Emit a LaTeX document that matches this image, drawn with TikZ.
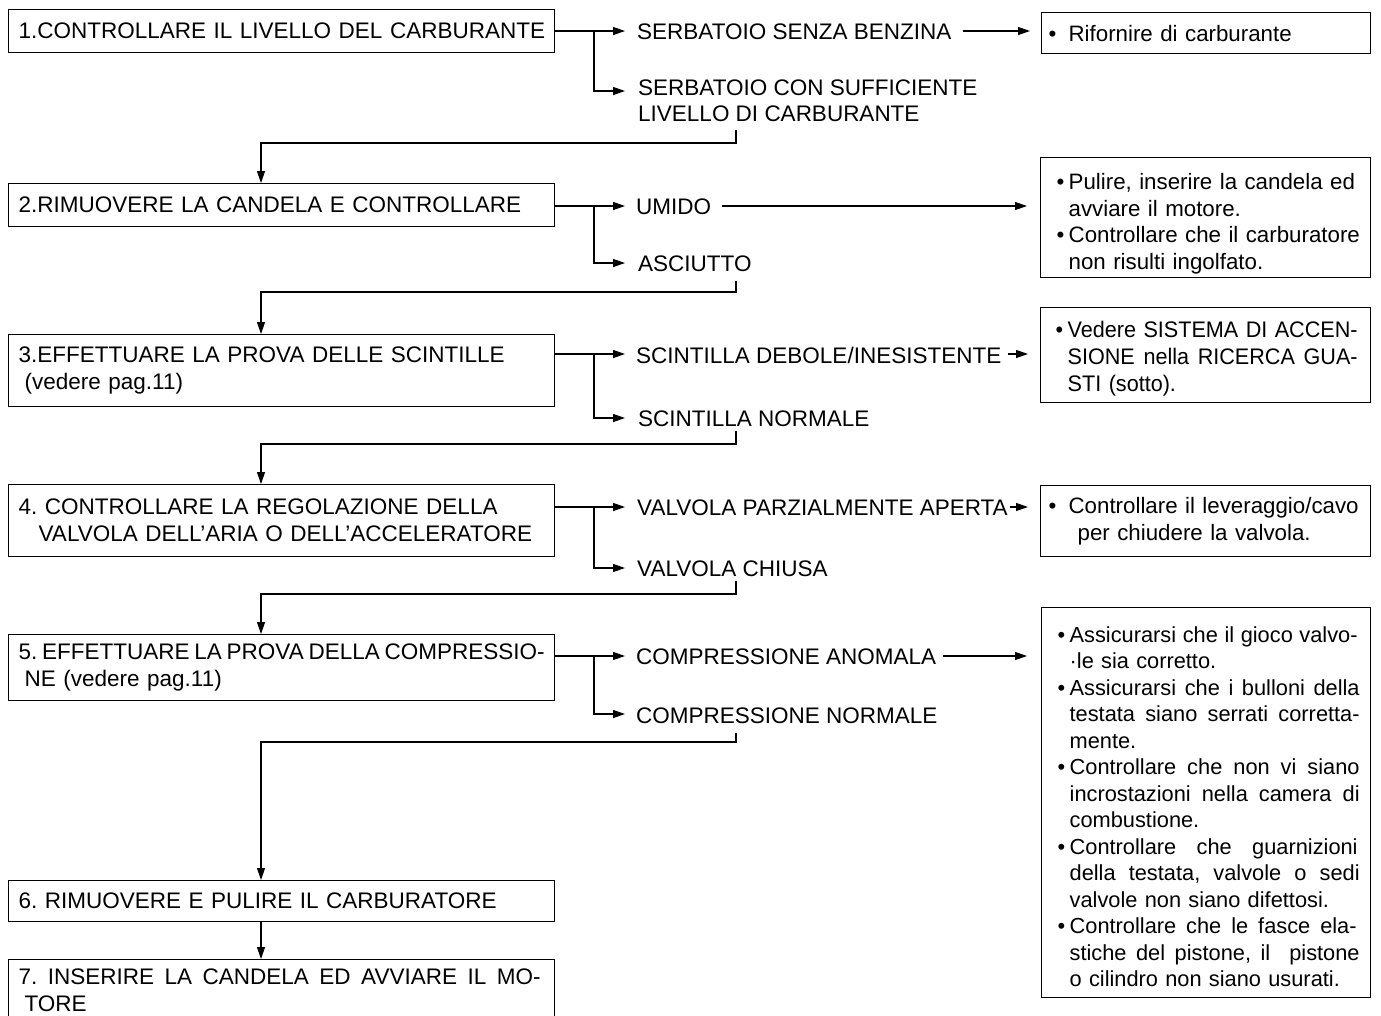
\documentclass[tikz,border=0pt]{standalone}
\usepackage{fontspec}
\setmainfont{Liberation Sans}
\newfontfamily\condf[FakeStretch=0.96]{Liberation Sans}
\usetikzlibrary{arrows.meta}
\newcommand\bul{\makebox[12pt][l]{•}}
\newcommand\ind{\hspace*{12pt}}
\newcommand\jl[2]{\makebox[#1][s]{\spaceskip=0.28em plus 1fil minus 0.2em\relax #2}}
\AtBeginDocument{\frenchspacing}
\begin{document}
\begin{tikzpicture}[x=1pt,y=-1pt,
  lbox/.style={draw, line width=1.3pt, anchor=north west, text width=526pt, inner xsep=10pt, inner ysep=0pt, align=left, font=\fontsize{22.5}{27}\selectfont},
  rbox/.style={draw, line width=1.3pt, anchor=north west, inner ysep=0pt, align=left, font=\fontsize{22.3}{26.5}\selectfont},
  lbl/.style={anchor=base west, inner sep=0pt, font=\fontsize{22.5}{27}\selectfont},
  ln/.style={line width=1.2pt},
  arr/.style={ln, -{Triangle[length=12pt,width=8pt]}}]
\useasboundingbox (0,0) rectangle (1381,1015);

% left boxes
\node[lbox, minimum height=43pt] (b1) at (8,9) {\mbox{1.CONTROLLARE IL LIVELLO DEL CARBURANTE}};
\node[lbox, minimum height=43pt] (b2) at (8,183) {\mbox{2.RIMUOVERE LA CANDELA E CONTROLLARE}};
\node[lbox, minimum height=72pt] (b3) at (8,334) {\mbox{3.EFFETTUARE LA PROVA DELLE SCINTILLE}\\\mbox{\hspace*{6pt}(vedere pag.11)}};
\node[lbox, minimum height=72pt] (b4) at (8,484) {\mbox{4. CONTROLLARE LA REGOLAZIONE DELLA}\\\mbox{\hspace*{20pt}VALVOLA DELL’ARIA O DELL’ACCELERATORE}};
\node[lbox, minimum height=66pt] (b5) at (8,634) {\mbox{\jl{526pt}{5. EFFETTUARE LA PROVA DELLA COMPRESSIO-}}\\\mbox{\hspace*{6pt}NE (vedere pag.11)}};
\node[lbox, minimum height=41pt] (b6) at (8,880) {\mbox{6. RIMUOVERE E PULIRE IL CARBURATORE}};
\node[lbox, minimum height=62pt] (b7) at (8,959) {\mbox{\jl{522pt}{7. INSERIRE LA CANDELA ED AVVIARE IL MO-}}\\\mbox{\hspace*{6pt}TORE}};

% right boxes
\node[rbox, text width=315pt, inner xsep=7pt, minimum height=41pt] (r1) at (1041,12) {\mbox{\makebox[20pt][l]{•}Rifornire di carburante}};
\node[rbox, text width=298pt, inner xsep=16pt, minimum height=120pt] (r2) at (1040,157) {\mbox{\rule{0pt}{28pt}\bul Pulire, inserire la candela ed}\\\mbox{\ind avviare il motore.}\\\mbox{\bul Controllare che il carburatore}\\\mbox{\ind non risulti ingolfato.}};
\node[rbox, text width=300pt, inner xsep=15pt, minimum height=95pt, font=\condf\fontsize{22.5}{27}\selectfont] (r3) at (1040,307) {\mbox{\rule{0pt}{24pt}\bul\jl{290pt}{Vedere SISTEMA DI ACCEN-}}\\\mbox{\ind\jl{290pt}{SIONE nella RICERCA GUA-}}\\\mbox{\ind STI (sotto).}};
\node[rbox, text width=314pt, inner xsep=8pt, minimum height=71pt, font=\fontsize{22.3}{27}\selectfont] (r4) at (1040,485) {\mbox{\makebox[20pt][l]{•}Controllare il leveraggio/cavo}\\\mbox{\hspace*{29pt}per chiudere la valvola.}};
\node[rbox, text width=297pt, inner xsep=16pt, minimum height=390pt, font=\fontsize{21.8}{26.5}\selectfont] (r5) at (1041,607) {%
\mbox{\rule{0pt}{24pt}\bul\jl{288pt}{Assicurarsi che il gioco valvo-}}\\
\mbox{\ind ·le sia corretto.}\\
\mbox{\bul\jl{290pt}{Assicurarsi che i bulloni della}}\\
\mbox{\ind\jl{290pt}{testata siano serrati corretta-}}\\
\mbox{\ind mente.}\\
\mbox{\bul\jl{290pt}{Controllare che non vi siano}}\\
\mbox{\ind\jl{290pt}{incrostazioni nella camera di}}\\
\mbox{\ind combustione.}\\
\mbox{\bul\jl{288pt}{Controllare che guarnizioni}}\\
\mbox{\ind\jl{290pt}{della testata, valvole o sedi}}\\
\mbox{\ind valvole non siano difettosi.}\\
\mbox{\bul\jl{287pt}{Controllare che le fasce ela-}}\\
\mbox{\ind\jl{290pt}{stiche del pistone, il\ \ pistone}}\\
\mbox{\ind o cilindro non siano usurati.}};

% branch labels
\node[lbl] (s1a) at (637,39) {SERBATOIO SENZA BENZINA};
\node[lbl] (s1b) at (638,95) {SERBATOIO CON SUFFICIENTE};
\node[lbl] (s1c) at (638,121) {LIVELLO DI CARBURANTE};
\node[lbl] (u2) at (636,214) {UMIDO};
\node[lbl] (a2) at (638,271) {ASCIUTTO};
\node[lbl] (s3a) at (636,363) {SCINTILLA DEBOLE/INESISTENTE};
\node[lbl] (s3b) at (638,426) {SCINTILLA NORMALE};
\node[lbl] (v4a) at (637,515) {VALVOLA PARZIALMENTE APERTA};
\node[lbl] (v4b) at (637,576) {VALVOLA CHIUSA};
\node[lbl] (c5a) at (636,664) {COMPRESSIONE ANOMALA};
\node[lbl] (c5b) at (636,723) {COMPRESSIONE NORMALE};

% junctions and arrow ends
\coordinate (j1) at (594,31);  \coordinate (f1) at (625,31);  \coordinate (e1) at (625,91);
\coordinate (j2) at (594,206); \coordinate (f2) at (625,206); \coordinate (e2) at (625,263);
\coordinate (j3) at (594,354); \coordinate (f3) at (625,354); \coordinate (e3) at (625,418);
\coordinate (j4) at (594,507); \coordinate (f4) at (625,507); \coordinate (e4) at (625,568);
\coordinate (j5) at (594,656); \coordinate (f5) at (625,656); \coordinate (e5) at (625,714);

\foreach \i in {1,...,5}{
  \draw[ln] (b\i.east |- j\i) -- (j\i);
  \draw[arr] (j\i) -- (f\i);
  \draw[arr] (j\i) |- (e\i);
}

% arrows to right boxes
\draw[arr, shorten <=11pt, shorten >=11pt] (s1a.east |- j1) -- (r1.west |- j1);
\draw[arr, shorten <=11pt, shorten >=13pt] (u2.east |- j2) -- (r2.west |- j2);
\draw[arr, shorten <=6pt, shorten >=12pt] (s3a.east |- j3) -- (r3.west |- j3);
\draw[arr, shorten <=2pt, shorten >=12pt] (v4a.east |- j4) -- (r4.west |- j4);
\draw[arr, shorten <=7pt, shorten >=14pt] (c5a.east |- j5) -- (r5.west |- j5);

% return lines
\coordinate (q1) at (736,130); \coordinate (k1) at (736,143); \coordinate (t2) at (261,183);
\coordinate (q2) at (736,281); \coordinate (k2) at (736,292); \coordinate (t3) at (261,334);
\coordinate (q3) at (736,431); \coordinate (k3) at (736,444); \coordinate (t4) at (261,484);
\coordinate (q4) at (736,581); \coordinate (k4) at (736,594); \coordinate (t5) at (261,634);
\coordinate (q5) at (736,733); \coordinate (k5) at (736,742); \coordinate (t6) at (261,880);
\draw[arr] (q1) -- (k1) -| (t2);
\draw[arr] (q2) -- (k2) -| (t3);
\draw[arr] (q3) -- (k3) -| (t4);
\draw[arr] (q4) -- (k4) -| (t5);
\draw[arr] (q5) -- (k5) -| (t6);
\coordinate (p6) at (261,921); \coordinate (t7) at (261,959);
\draw[arr] (p6) -- (t7);
\end{tikzpicture}
\end{document}
